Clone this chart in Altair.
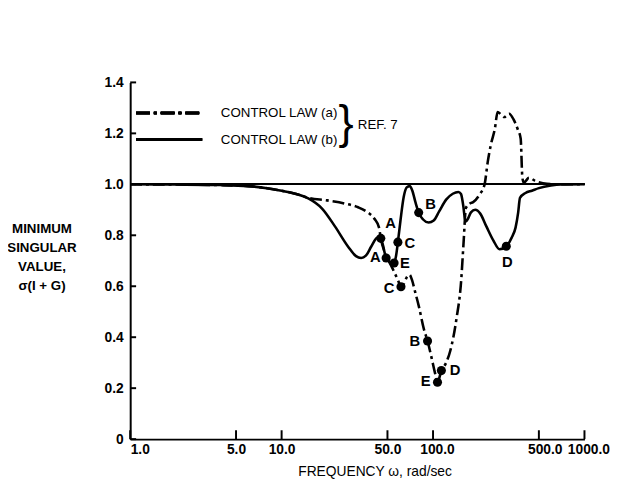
import altair as alt
import pandas as pd

# ---- data ----
# control law (a): dash-dot curve
freq_a = [1, 2, 4, 6, 8, 10, 12.5, 15, 20, 26, 32, 37, 41, 44, 45.2, 49, 53, 56, 59, 61.4,
          64, 67, 70, 72.6, 76, 80.6, 87, 92, 98, 103, 107, 113.5, 122, 130, 142.6, 153.5, 159, 165, 175, 184,
          204, 219, 230, 241, 256, 267, 280, 295, 318, 340, 361, 379, 389, 398, 412, 430, 475, 565, 700, 1000]
sv_a = [1.0, 0.999, 0.997, 0.993, 0.985, 0.975, 0.962, 0.947, 0.937, 0.925, 0.91, 0.89, 0.865, 0.83, 0.788, 0.72, 0.68, 0.65, 0.62, 0.598,
        0.608, 0.635, 0.645, 0.625, 0.58, 0.521, 0.432, 0.385, 0.317, 0.26, 0.223, 0.269, 0.30, 0.347, 0.47, 0.625, 0.769, 0.908, 0.925, 0.93,
        0.962, 1.0, 1.09, 1.156, 1.218, 1.284, 1.275, 1.264, 1.277, 1.255, 1.219, 1.18, 1.026, 1.006, 1.015, 1.026, 1.013, 1.002, 1.0, 1.0]

# control law (b): solid curve
freq_b = [1, 2, 4, 6, 8, 10, 12.5, 15, 18.5, 22.5, 27.5, 31, 33.5, 36, 39, 42, 44.5, 46.5, 49, 52,
          55.3, 57, 58.6, 61, 64, 67, 70, 73, 76.5, 80.4, 86, 93.5, 101, 110, 122, 135, 147, 153, 158, 164,
          170, 178, 190, 205, 225, 250, 275, 304.6, 330, 351, 365, 375, 408, 450, 500, 600, 700, 1000]
sv_b = [1.0, 0.999, 0.997, 0.993, 0.985, 0.975, 0.962, 0.945, 0.905, 0.835, 0.755, 0.718, 0.711, 0.72, 0.755, 0.787, 0.795, 0.765, 0.711, 0.695,
        0.691, 0.72, 0.773, 0.86, 0.95, 0.988, 0.993, 0.975, 0.93, 0.889, 0.862, 0.85, 0.858, 0.895, 0.94, 0.963, 0.970, 0.962, 0.92, 0.853,
        0.865, 0.89, 0.90, 0.885, 0.835, 0.78, 0.745, 0.757, 0.79, 0.831, 0.89, 0.947, 0.966, 0.975, 0.985, 0.995, 0.999, 1.0]

# labelled points
pt_curve = ["a", "a", "a", "a", "a", "b", "b", "b", "b", "b"]
pt_label = ["A", "C", "B", "E", "D", "A", "E", "C", "B", "D"]
pt_freq = [45.2, 61.4, 92, 107, 113.5, 49, 55.3, 58.6, 80.4, 304.6]
pt_sv = [0.788, 0.598, 0.385, 0.223, 0.269, 0.711, 0.691, 0.773, 0.889, 0.757]

x_ticks = [1, 5, 10, 50, 100, 500, 1000]
y_ticks = [0, 0.2, 0.4, 0.6, 0.8, 1.0, 1.2, 1.4]
legend_labels = ["CONTROL LAW (a)", "CONTROL LAW (b)"]
ref_label = "REF. 7"
y_title = ["MINIMUM", "SINGULAR", "VALUE,", "σ(I + G)"]
x_title = "FREQUENCY ω, rad/sec"

# ---- layout / style ----
W, H = 461, 362
FONT = "Liberation Sans"
BLACK = "#000000"

df_a = pd.DataFrame({"f": freq_a, "v": sv_a})
df_b = pd.DataFrame({"f": freq_b, "v": sv_b})
df_pts = pd.DataFrame({"curve": pt_curve, "label": pt_label, "f": pt_freq, "v": pt_sv})
df_xt = pd.DataFrame({"f": x_ticks})
df_yt = pd.DataFrame({"v": y_ticks})

xscale = alt.Scale(type="log", domain=[1, 1000], nice=False)
yscale = alt.Scale(domain=[0, 1.4], nice=False, zero=False)

xaxis = alt.Axis(values=x_ticks, format=".1f", ticks=False, grid=False,
                 domainColor=BLACK, domainWidth=2,
                 labelFont=FONT, labelFontSize=14, labelFontWeight="bold", labelColor=BLACK,
                 labelPadding=4, labelFlush=False,
                 labelAlign={"condition": {"test": "datum.value == 1", "value": "left"}, "value": "center"},
                 labelOffset={"condition": [{"test": "datum.value == 500", "value": 6},
                                            {"test": "datum.value >= 100", "value": 4}], "value": 0},
                 title=x_title, titleFont=FONT, titleFontSize=14, titleFontWeight="normal",
                 titleColor=BLACK, titleX=248, titleY=33, titleBaseline="middle", titleAlign="center")

yaxis = alt.Axis(values=y_ticks, ticks=False, grid=False,
                 labelExpr="datum.value == 0 ? '0' : format(datum.value, '.1f')",
                 domainColor=BLACK, domainWidth=2,
                 labelFont=FONT, labelFontSize=14, labelFontWeight="bold", labelColor=BLACK,
                 labelPadding=7,
                 title=y_title, titleFont=FONT, titleFontSize=13.5, titleFontWeight="bold",
                 titleColor=BLACK, titleAngle=0, titleAlign="center", titleBaseline="top",
                 titleX=-90, titleY=141, titleLineHeight=19.5)

base_x = alt.X("f:Q", scale=xscale, axis=xaxis)
base_y = alt.Y("v:Q", scale=yscale, axis=yaxis)

ref_line = alt.Chart(df_xt).mark_rule(color=BLACK, strokeWidth=1.5).encode(y=alt.datum(1.0))

line_b = alt.Chart(df_b).mark_line(color=BLACK, strokeWidth=2.6, interpolate="monotone").encode(
    x=base_x, y=base_y)
line_a = alt.Chart(df_a).mark_line(color=BLACK, strokeWidth=2.6, interpolate="monotone",
                                   strokeDash=[12, 4, 3, 4]).encode(
    x=alt.X("f:Q", scale=xscale), y=alt.Y("v:Q", scale=yscale))

dots = alt.Chart(df_pts).mark_circle(color=BLACK, opacity=1, size=85).encode(
    x=alt.X("f:Q", scale=xscale), y=alt.Y("v:Q", scale=yscale))

offsets = {("a", "A"): (10, -15), ("a", "C"): (-12, 1), ("a", "B"): (-13, 0),
           ("a", "E"): (-12, -1), ("a", "D"): (14, -1),
           ("b", "A"): (-11, -1), ("b", "E"): (11, 0), ("b", "C"): (12, 1),
           ("b", "B"): (12, -9), ("b", "D"): (1, 16)}
label_layers = []
for (c, l), (dx, dy) in offsets.items():
    label_layers.append(
        alt.Chart(df_pts).transform_filter(
            (alt.datum.curve == c) & (alt.datum.label == l)
        ).mark_text(font=FONT, fontSize=15, fontWeight="bold", color=BLACK, dx=dx, dy=dy,
                    align="center", baseline="middle").encode(
            x=alt.X("f:Q", scale=xscale), y=alt.Y("v:Q", scale=yscale), text="label:N"))

# inward axis ticks
xticks = alt.Chart(df_xt).mark_rule(color=BLACK, strokeWidth=2).encode(
    x=alt.X("f:Q", scale=xscale), y=alt.value(H), y2=alt.value(H - 9))
yticks = alt.Chart(df_yt).mark_rule(color=BLACK, strokeWidth=2).encode(
    y=alt.Y("v:Q", scale=yscale), x=alt.value(0), x2=alt.value(6))

# legend
leg_a = alt.Chart(df_xt).mark_rule(color=BLACK, strokeWidth=2.6, strokeDash=[14, 4, 3, 4]).encode(
    x=alt.value(6), x2=alt.value(73), y=alt.value(31))
leg_b = alt.Chart(df_xt).mark_rule(color=BLACK, strokeWidth=2.6).encode(
    x=alt.value(6), x2=alt.value(73), y=alt.value(58))
df_leg = pd.DataFrame({"t": legend_labels})
leg_ta = alt.Chart(df_leg).transform_filter(alt.datum.t == legend_labels[0]).mark_text(
    font=FONT, fontSize=13.5, color=BLACK, align="left", baseline="middle").encode(
    x=alt.value(92), y=alt.value(31), text="t:N")
leg_tb = alt.Chart(df_leg).transform_filter(alt.datum.t == legend_labels[1]).mark_text(
    font=FONT, fontSize=13.5, color=BLACK, align="left", baseline="middle").encode(
    x=alt.value(92), y=alt.value(58), text="t:N")
brace = alt.Chart(df_leg).transform_filter(alt.datum.t == legend_labels[0]).mark_text(
    font=FONT, fontSize=46, color=BLACK, align="center", baseline="middle", text="}").encode(
    x=alt.value(219), y=alt.value(42))
ref_text = alt.Chart(pd.DataFrame({"t": [ref_label]})).mark_text(
    font=FONT, fontSize=13.5, color=BLACK, align="left", baseline="middle").encode(
    x=alt.value(231), y=alt.value(43), text="t:N")

chart = alt.layer(
    ref_line, line_b, line_a, dots, *label_layers, xticks, yticks,
    leg_a, leg_b, leg_ta, leg_tb, brace, ref_text
).properties(
    width=W, height=H,
    autosize=alt.AutoSizeParams(type="none"),
    padding={"left": 124, "top": 72, "right": 32, "bottom": 40},
    background="white"
).configure_view(stroke=None)

chart.save("out.html", embed_options={"renderer": "svg", "actions": False})
